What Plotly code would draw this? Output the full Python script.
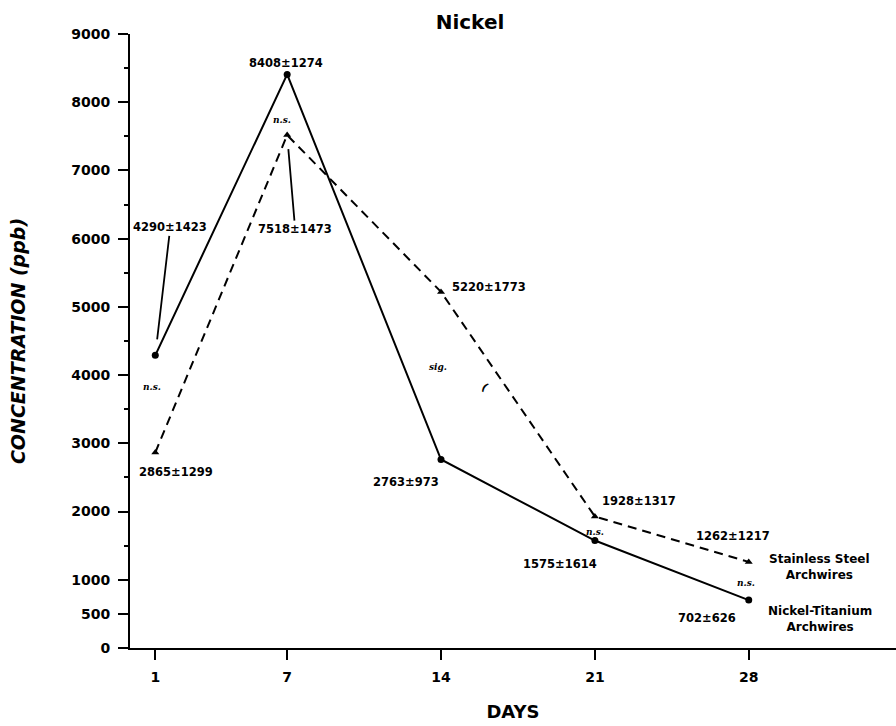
import plotly.graph_objects as go

# ---- data ----
days = [1, 7, 14, 21, 28]
niti_mean = [4290, 8408, 2763, 1575, 702]
niti_sd = [1423, 1274, 973, 1614, 626]
ss_mean = [2865, 7518, 5220, 1928, 1262]
ss_sd = [1299, 1473, 1773, 1317, 1217]
sig_labels = ["n.s.", "n.s.", "sig.", "n.s.", "n.s."]
y_tickvals = [0, 500, 1000, 2000, 3000, 4000, 5000, 6000, 7000, 8000, 9000]
y_minor = [1500, 2500, 3500, 4500, 5500, 6500, 7500, 8500]

FONT = "DejaVu Sans"
LAB = dict(family=FONT, size=11.5, color="black")

fig = go.Figure()
fig.add_trace(go.Scatter(
    x=days, y=ss_mean, mode="lines+markers", name="Stainless Steel Archwires",
    line=dict(color="black", width=2, dash="9px,6px"),
    marker=dict(symbol="triangle-up", size=7, color="black")))
fig.add_trace(go.Scatter(
    x=days, y=niti_mean, mode="lines+markers", name="Nickel-Titanium Archwires",
    line=dict(color="black", width=2),
    marker=dict(symbol="circle", size=7, color="black")))

ann = []
# value labels (offsets in px relative to each point)
niti_off = [None, (-1, 11.5), (-35, -22), (-35, -23), (-42, -18)]
ss_off = [(21, -19), None, (48, 5), (44, 15), (-16, 26)]
for i, d in enumerate(days):
    t = f"<b>{niti_mean[i]}±{niti_sd[i]}</b>"
    if niti_off[i] is None:
        ann.append(dict(x=d, y=niti_mean[i], text=t, showarrow=True, arrowhead=0,
                        arrowwidth=1.8, arrowcolor="black", ax=15, ay=-128,
                        standoff=16, font=LAB))
    else:
        ann.append(dict(x=d, y=niti_mean[i], text=t, showarrow=False,
                        xshift=niti_off[i][0], yshift=niti_off[i][1], font=LAB))
    t = f"<b>{ss_mean[i]}±{ss_sd[i]}</b>"
    if ss_off[i] is None:
        ann.append(dict(x=d, y=ss_mean[i], text=t, showarrow=True, arrowhead=0,
                        arrowwidth=1.8, arrowcolor="black", ax=8, ay=94,
                        standoff=14, font=LAB))
    else:
        ann.append(dict(x=d, y=ss_mean[i], text=t, showarrow=False,
                        xshift=ss_off[i][0], yshift=ss_off[i][1], font=LAB))

# significance labels, placed between the two series
sig_shift = [(-3, 17), (-5, -15), (-3, 9), (0, -3), (-3, -2)]
for i, d in enumerate(days):
    ann.append(dict(x=d, y=(niti_mean[i] + ss_mean[i]) / 2,
                    text=f"<b><i>{sig_labels[i]}</i></b>", showarrow=False,
                    xshift=sig_shift[i][0], yshift=sig_shift[i][1],
                    font=dict(family="DejaVu Serif", size=9, color="black")))

# small bracket mark near the sig. label
ann.append(dict(x=16.0, y=3812, text="<b>(</b>", showarrow=False, textangle=35,
                font=dict(family=FONT, size=11, color="black")))

# series labels at the right
ann.append(dict(x=days[-1], y=ss_mean[-1], text="<b>Stainless Steel<br>Archwires</b>",
                showarrow=False, xshift=71, yshift=-5,
                font=dict(family=FONT, size=12, color="black")))
ann.append(dict(x=days[-1], y=niti_mean[-1], text="<b>Nickel-Titanium<br>Archwires</b>",
                showarrow=False, xshift=71, yshift=-19,
                font=dict(family=FONT, size=12, color="black")))

fig.update_layout(
    width=896, height=726,
    margin=dict(l=130, r=0, t=33.5, b=77.5),
    paper_bgcolor="white", plot_bgcolor="white",
    showlegend=False,
    title=dict(text="<b>Nickel</b>", x=470 / 896, xref="container", xanchor="center",
               y=1 - 22 / 726, yref="container", yanchor="middle",
               font=dict(family=FONT, size=20, color="black")),
    annotations=ann,
    font=dict(family=FONT, color="black"),
)
fig.update_xaxes(
    range=[-0.15, 34.7], tickvals=days, ticktext=[str(d) for d in days],
    showline=True, linecolor="black", linewidth=2, ticks="outside", ticklen=10,
    tickwidth=2, tickcolor="black", showgrid=False, zeroline=False,
    ticklabelstandoff=5,
    tickfont=dict(family=FONT, size=14, color="black", weight="bold"),
    title=dict(text="<b>DAYS</b>", standoff=22,
               font=dict(family=FONT, size=18, color="black")),
)
fig.update_yaxes(
    range=[0, 9000], tickvals=y_tickvals, ticktext=[str(v) for v in y_tickvals],
    showline=True, linecolor="black", linewidth=2, ticks="outside", ticklen=10,
    tickwidth=2, tickcolor="black", showgrid=False, zeroline=False,
    ticklabelstandoff=5,
    tickfont=dict(family=FONT, size=14, color="black", weight="bold"),
    minor=dict(tickvals=y_minor, ticks="outside", ticklen=4, tickwidth=1.5,
               tickcolor="black", showgrid=False),
    title=dict(text="<b><i>CONCENTRATION (ppb)</i></b>", standoff=41,
               font=dict(family=FONT, size=19, color="black")),
)

fig.write_html("out.html")
